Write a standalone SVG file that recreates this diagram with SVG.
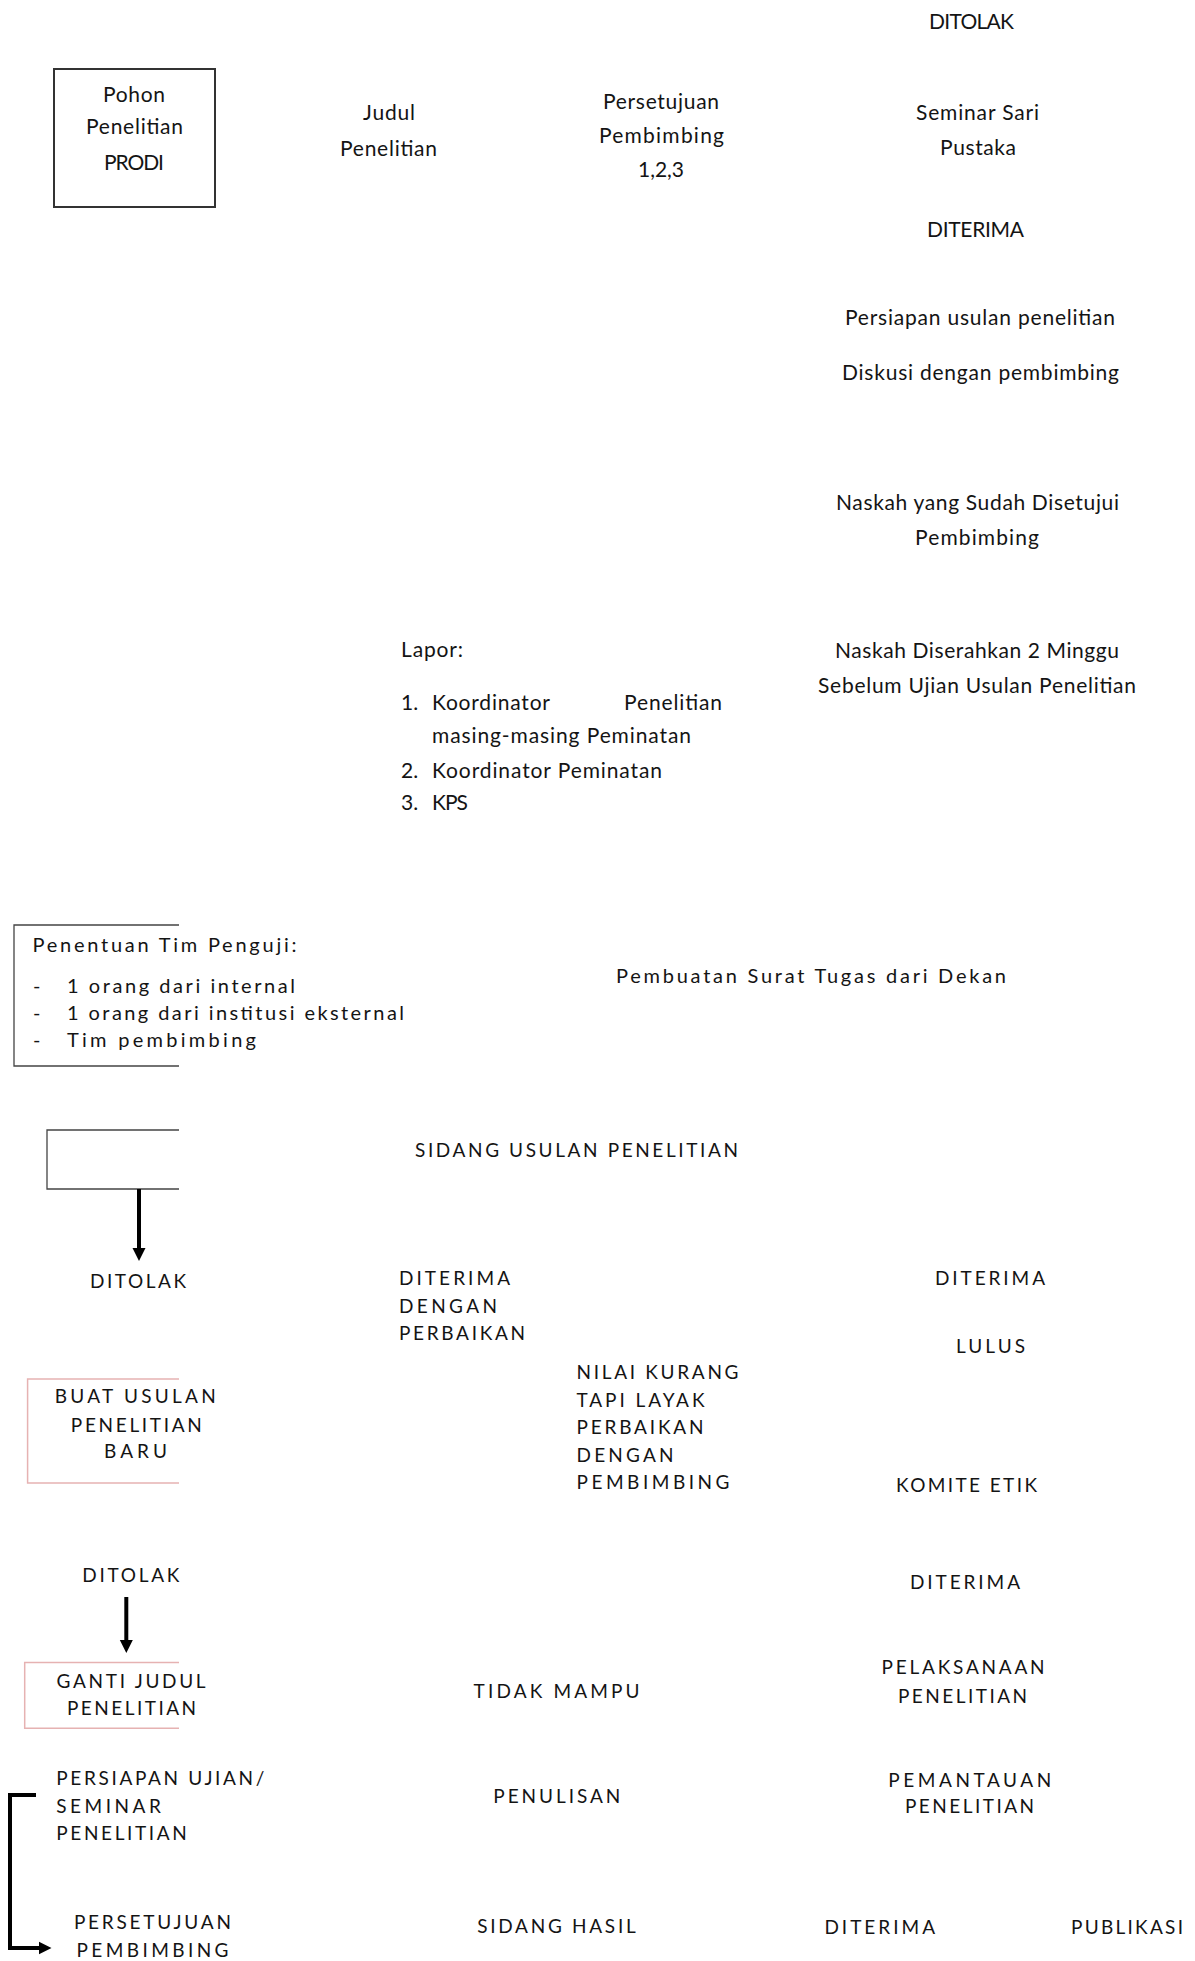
<svg xmlns="http://www.w3.org/2000/svg" width="1195" height="1961" viewBox="0 0 1195 1961">
<style>
text{font-family:Lato,"Liberation Sans",sans-serif;fill:#141414;}
.t1{font-size:21px;}
.t3{font-size:20px;}
.t2{font-size:19px;}
.frame{fill:none;stroke:#444;stroke-width:1.3;}
.pink{fill:none;stroke:#e6b2b2;stroke-width:1.5;}
.conn{fill:none;stroke:#000;stroke-width:4;}
</style>
<defs>
<marker id="ah" viewBox="0 0 10 10" refX="1" refY="5" markerWidth="13" markerHeight="14" markerUnits="userSpaceOnUse" orient="auto">
<path d="M0,0 L10,5 L0,10 z" fill="#000"/>
</marker>
</defs>
<rect width="1195" height="1961" fill="#fff"/>

<g id="pohon">
<rect x="54" y="69" width="161" height="138" fill="none" stroke="#333" stroke-width="2"/>
<text class="t1" x="103" y="102" textLength="62" lengthAdjust="spacing">Pohon</text>
<text class="t1" x="86" y="134" textLength="97" lengthAdjust="spacing">Penelitian</text>
<text class="t1" x="104" y="170" textLength="60" lengthAdjust="spacing">PRODI</text>
</g>
<g id="judul">
<text class="t1" x="363" y="120" textLength="52" lengthAdjust="spacing">Judul</text>
<text class="t1" x="340" y="156" textLength="97" lengthAdjust="spacing">Penelitian</text>
</g>
<g id="persetujuan">
<text class="t1" x="603" y="109" textLength="116" lengthAdjust="spacing">Persetujuan</text>
<text class="t1" x="599" y="143" textLength="125" lengthAdjust="spacing">Pembimbing</text>
<text class="t1" x="638" y="177" textLength="46" lengthAdjust="spacing">1,2,3</text>
</g>
<g id="ditolak-top">
<text class="t1" x="929" y="29" textLength="85" lengthAdjust="spacing">DITOLAK</text>
</g>
<g id="seminar">
<text class="t1" x="916" y="120" textLength="123" lengthAdjust="spacing">Seminar Sari</text>
<text class="t1" x="940" y="155" textLength="76" lengthAdjust="spacing">Pustaka</text>
</g>
<g id="diterima-top">
<text class="t1" x="927" y="237" textLength="97" lengthAdjust="spacing">DITERIMA</text>
</g>
<g id="persiapan">
<text class="t1" x="845" y="325" textLength="270" lengthAdjust="spacing">Persiapan usulan penelitian</text>
<text class="t1" x="842" y="380" textLength="277" lengthAdjust="spacing">Diskusi dengan pembimbing</text>
</g>
<g id="naskah-setuju">
<text class="t1" x="836" y="510" textLength="283" lengthAdjust="spacing">Naskah yang Sudah Disetujui</text>
<text class="t1" x="915" y="545" textLength="124" lengthAdjust="spacing">Pembimbing</text>
</g>
<g id="naskah-serah">
<text class="t1" x="835" y="658" textLength="284" lengthAdjust="spacing">Naskah Diserahkan 2 Minggu</text>
<text class="t1" x="818" y="693" textLength="318" lengthAdjust="spacing">Sebelum Ujian Usulan Penelitian</text>
</g>
<g id="lapor">
<text class="t1" x="401" y="657" textLength="62" lengthAdjust="spacing">Lapor:</text>
<text class="t1" x="401" y="710">1.</text>
<text class="t1" x="432" y="710" textLength="118" lengthAdjust="spacing">Koordinator</text>
<text class="t1" x="624" y="710" textLength="98" lengthAdjust="spacing">Penelitian</text>
<text class="t1" x="432" y="743" textLength="259" lengthAdjust="spacing">masing-masing Peminatan</text>
<text class="t1" x="401" y="778">2.</text>
<text class="t1" x="432" y="778" textLength="230" lengthAdjust="spacing">Koordinator Peminatan</text>
<text class="t1" x="401" y="810">3.</text>
<text class="t1" x="432" y="810" textLength="36" lengthAdjust="spacing">KPS</text>
</g>
<g id="penentuan">
<path class="frame" d="M179 925 H14 V1066 H179"/>
<text class="t3" x="32.5" y="952" textLength="264" lengthAdjust="spacing">Penentuan Tim Penguji:</text>
<text class="t3" x="33" y="993">-</text>
<text class="t3" x="67" y="993" textLength="228" lengthAdjust="spacing">1 orang dari internal</text>
<text class="t3" x="33" y="1020">-</text>
<text class="t3" x="67" y="1020" textLength="337" lengthAdjust="spacing">1 orang dari institusi eksternal</text>
<text class="t3" x="33" y="1047">-</text>
<text class="t3" x="67" y="1047" textLength="189" lengthAdjust="spacing">Tim pembimbing</text>
</g>
<g id="surat-tugas">
<text class="t3" x="616" y="983" textLength="390" lengthAdjust="spacing">Pembuatan Surat Tugas dari Dekan</text>
</g>
<g id="box-empty">
<path class="frame" d="M179 1130 H47 V1189 H179"/>
</g>
<g id="sidang-usulan">
<text class="t2" x="415" y="1157" textLength="323" lengthAdjust="spacing">SIDANG USULAN PENELITIAN</text>
</g>
<g id="ditolak-1">
<text class="t2" x="90" y="1288" textLength="96" lengthAdjust="spacing">DITOLAK</text>
</g>
<g id="diterima-perbaikan">
<text class="t2" x="399" y="1285" textLength="111" lengthAdjust="spacing">DITERIMA</text>
<text class="t2" x="399" y="1313" textLength="98" lengthAdjust="spacing">DENGAN</text>
<text class="t2" x="399" y="1340" textLength="126" lengthAdjust="spacing">PERBAIKAN</text>
</g>
<g id="diterima-right">
<text class="t2" x="935" y="1285" textLength="110" lengthAdjust="spacing">DITERIMA</text>
</g>
<g id="lulus">
<text class="t2" x="956" y="1353" textLength="69" lengthAdjust="spacing">LULUS</text>
</g>
<g id="nilai-kurang">
<text class="t2" x="576.5" y="1379" textLength="162" lengthAdjust="spacing">NILAI KURANG</text>
<text class="t2" x="576.5" y="1407" textLength="128" lengthAdjust="spacing">TAPI LAYAK</text>
<text class="t2" x="576.5" y="1434" textLength="127" lengthAdjust="spacing">PERBAIKAN</text>
<text class="t2" x="576.5" y="1462" textLength="97" lengthAdjust="spacing">DENGAN</text>
<text class="t2" x="576.5" y="1489" textLength="153" lengthAdjust="spacing">PEMBIMBING</text>
</g>
<g id="buat-usulan">
<path class="pink" d="M179 1379 H27.6 V1483 H179"/>
<text class="t2" x="54.7" y="1403" textLength="161" lengthAdjust="spacing">BUAT USULAN</text>
<text class="t2" x="70.8" y="1432" textLength="131" lengthAdjust="spacing">PENELITIAN</text>
<text class="t2" x="104" y="1458" textLength="63" lengthAdjust="spacing">BARU</text>
</g>
<g id="komite-etik">
<text class="t2" x="896" y="1492" textLength="141" lengthAdjust="spacing">KOMITE ETIK</text>
</g>
<g id="ditolak-2">
<text class="t2" x="82.3" y="1582" textLength="97" lengthAdjust="spacing">DITOLAK</text>
</g>
<g id="diterima-komite">
<text class="t2" x="910" y="1589" textLength="110" lengthAdjust="spacing">DITERIMA</text>
</g>
<g id="ganti-judul">
<path class="pink" d="M179 1662.5 H24.7 V1728.3 H179"/>
<text class="t2" x="56.6" y="1688" textLength="149" lengthAdjust="spacing">GANTI JUDUL</text>
<text class="t2" x="67" y="1715" textLength="129" lengthAdjust="spacing">PENELITIAN</text>
</g>
<g id="pelaksanaan">
<text class="t2" x="881.6" y="1674" textLength="163" lengthAdjust="spacing">PELAKSANAAN</text>
<text class="t2" x="898" y="1703" textLength="129" lengthAdjust="spacing">PENELITIAN</text>
</g>
<g id="tidak-mampu">
<text class="t2" x="473.6" y="1698" textLength="166" lengthAdjust="spacing">TIDAK MAMPU</text>
</g>
<g id="persiapan-ujian">
<text class="t2" x="56.3" y="1785" textLength="208" lengthAdjust="spacing">PERSIAPAN UJIAN/</text>
<text class="t2" x="56.3" y="1813" textLength="104.5" lengthAdjust="spacing">SEMINAR</text>
<text class="t2" x="56.3" y="1840" textLength="130.5" lengthAdjust="spacing">PENELITIAN</text>
</g>
<g id="pemantauan">
<text class="t2" x="888.3" y="1787" textLength="163" lengthAdjust="spacing">PEMANTAUAN</text>
<text class="t2" x="905" y="1813" textLength="129" lengthAdjust="spacing">PENELITIAN</text>
</g>
<g id="penulisan">
<text class="t2" x="493.3" y="1803" textLength="127" lengthAdjust="spacing">PENULISAN</text>
</g>
<g id="persetujuan-pembimbing">
<text class="t2" x="73.9" y="1929" textLength="157" lengthAdjust="spacing">PERSETUJUAN</text>
<text class="t2" x="76.5" y="1957" textLength="152" lengthAdjust="spacing">PEMBIMBING</text>
</g>
<g id="sidang-hasil">
<text class="t2" x="477.2" y="1933" textLength="158.5" lengthAdjust="spacing">SIDANG HASIL</text>
</g>
<g id="diterima-hasil">
<text class="t2" x="824.4" y="1934" textLength="110.6" lengthAdjust="spacing">DITERIMA</text>
</g>
<g id="publikasi">
<text class="t2" x="1071" y="1934" textLength="112" lengthAdjust="spacing">PUBLIKASI</text>
</g>

<g id="connectors">
<path class="conn" d="M139 1189 V1249.3" marker-end="url(#ah)"/>
<path class="conn" d="M126.3 1597 V1641.3" marker-end="url(#ah)"/>
<path class="conn" d="M36 1795 H10 V1948 H39.8" marker-end="url(#ah)"/>
</g>
</svg>
